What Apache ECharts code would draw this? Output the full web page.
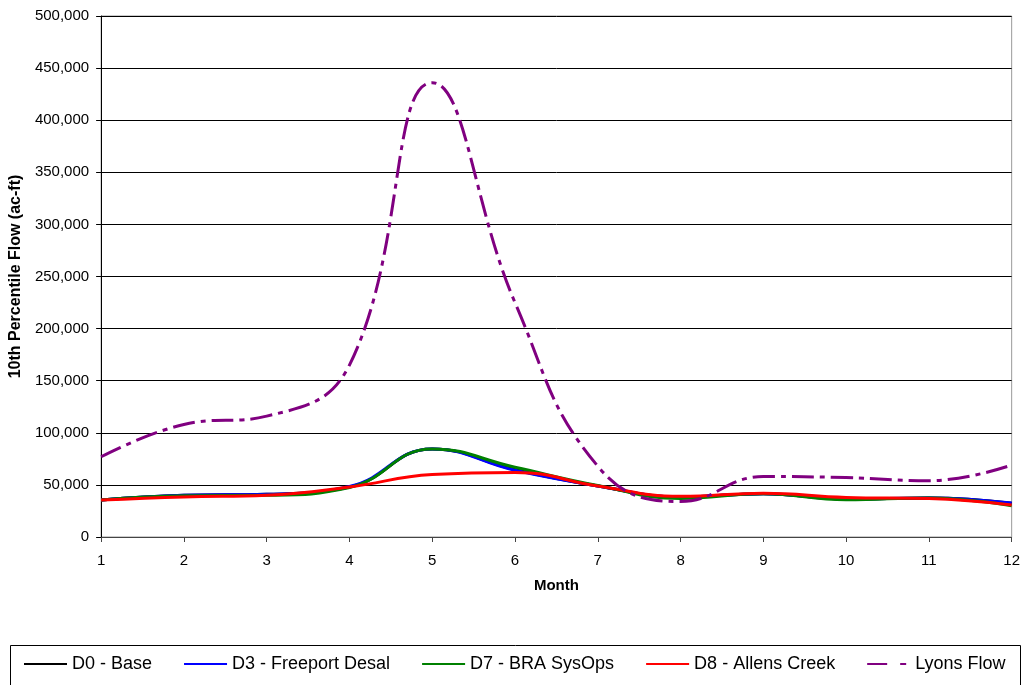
<!DOCTYPE html>
<html>
<head>
<meta charset="utf-8">
<script src="https://cdn.jsdelivr.net/npm/echarts@6/dist/echarts.min.js"></script>
<style>
  html, body { margin: 0; padding: 0; background: #fff; }
  #chart { width: 1023px; height: 685px; }
</style>
</head>
<body>
<div id="chart"></div>
<script>
// Monthly 10th percentile flows (ac-ft)
const months = [1, 2, 3, 4, 5, 6, 7, 8, 9, 10, 11, 12];
const d0Base = [35500, 40000, 41000, 48000, 84500, 64500, 49000, 38500, 41500, 36500, 37500, 32500];
const d3Freeport = [35500, 40000, 41000, 48500, 84500, 64000, 49000, 38500, 41500, 36500, 37500, 32600];
const d7BraSysOps = [35500, 39500, 40000, 47500, 84500, 67000, 49500, 37000, 41500, 35700, 37500, 30000];
const d8AllensCreek = [35500, 38500, 40000, 48000, 60000, 62000, 49000, 39000, 42000, 38000, 37000, 30700];
const lyonsFlow = [77000, 108000, 116000, 165000, 436000, 225000, 68000, 34000, 58000, 57000, 54000, 69000];
const yTicks = { min: 0, max: 500000, step: 50000 };

const pairs = arr => months.map((m, i) => [m, arr[i]]);

const chart = echarts.init(document.getElementById('chart'));

function lineSeries(name, data, color, extra) {
  return Object.assign({
    name: name,
    type: 'line',
    data: pairs(data),
    smooth: 0.45,
    showSymbol: false,
    symbol: 'none',
    lineStyle: { color: color, width: 3 },
    itemStyle: { color: color },
    emphasis: { disabled: true },
    animation: false
  }, extra || {});
}

chart.setOption({
  animation: false,
  backgroundColor: '#ffffff',
  textStyle: { fontFamily: 'Liberation Sans, Arial, sans-serif' },
  grid: {
    left: 100, right: 11, top: 16, bottom: 148,
    show: true, borderColor: '#999', borderWidth: 1
  },
  xAxis: {
    type: 'value',
    min: 1, max: 12, interval: 1,
    name: 'Month',
    nameLocation: 'middle',
    nameGap: 41,
    nameTextStyle: { fontWeight: 'bold', fontSize: 15, color: '#000' },
    axisLine: { lineStyle: { color: '#444', width: 1 } },
    axisTick: { show: true, length: 5, lineStyle: { color: '#444' } },
    axisLabel: { color: '#000', fontSize: 15, margin: 16 },
    splitLine: { show: false }
  },
  yAxis: {
    type: 'value',
    min: yTicks.min, max: yTicks.max, interval: yTicks.step,
    name: '10th Percentile Flow (ac-ft)',
    nameLocation: 'middle',
    nameGap: 68,
    nameTextStyle: { fontWeight: 'bold', fontSize: 16, color: '#000' },
    axisLine: { show: true, lineStyle: { color: '#000', width: 1 } },
    axisTick: { show: true, length: 5, lineStyle: { color: '#000' } },
    axisLabel: {
      color: '#000', fontSize: 15, margin: 12,
      formatter: v => v.toLocaleString('en-US')
    },
    splitLine: { show: true, lineStyle: { color: '#000', width: 1 } }
  },
  legend: {
    top: 655,
    left: 23,
    padding: 0,
    itemWidth: 43,
    itemHeight: 3,
    itemGap: 31,
    itemStyle: { opacity: 0 },
    textStyle: { fontSize: 18, color: '#000' },
    data: [
      'D0 - Base',
      'D3 - Freeport Desal',
      'D7 - BRA SysOps',
      'D8 - Allens Creek',
      { name: 'Lyons Flow', lineStyle: { type: [20, 13, 6, 13] } }
    ]
  },
  graphic: [{
    type: 'rect',
    shape: { x: 10.5, y: 645.5, width: 1010, height: 50 },
    style: { fill: 'none', stroke: '#000', lineWidth: 1 },
    silent: true
  }],
  series: [
    lineSeries('D0 - Base', d0Base, '#000000'),
    lineSeries('D3 - Freeport Desal', d3Freeport, '#0000ff'),
    lineSeries('D7 - BRA SysOps', d7BraSysOps, '#008000'),
    lineSeries('D8 - Allens Creek', d8AllensCreek, '#ff0000'),
    lineSeries('Lyons Flow', lyonsFlow, '#800080', {
      lineStyle: { color: '#800080', width: 3, type: [22, 6, 5, 6] }
    })
  ]
});
</script>
</body>
</html>
